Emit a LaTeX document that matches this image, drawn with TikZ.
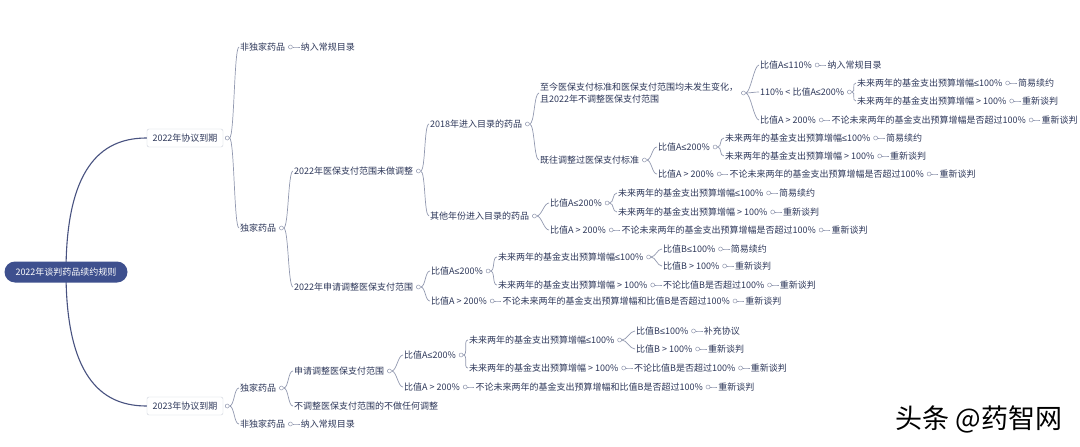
\documentclass[tikz,border=0pt]{standalone}
\usepackage{fontspec}
\setmainfont{Noto Sans CJK SC}
\newfontfamily\symfont{Liberation Sans}
\newcommand\lte{{\symfont ≤}}
\usetikzlibrary{positioning,backgrounds}
\definecolor{textcol}{RGB}{46,56,90}
\definecolor{linecol}{RGB}{146,153,176}
\definecolor{rootcol}{RGB}{62,80,142}
\definecolor{boxcol}{RGB}{205,210,220}
\definecolor{maincol}{RGB}{72,82,128}
\tikzset{
  txt/.style={inner sep=1pt, anchor=west, text=textcol, font=\fontsize{9}{12}\selectfont},
  rootbox/.style={fill=rootcol, text=white, rounded corners=10.5pt, minimum width=123pt,
    minimum height=21pt, inner sep=0pt, font=\fontsize{9}{11}\selectfont},
  datebox/.style={draw=boxcol, fill=white, rounded corners=2pt, minimum width=76pt,
    minimum height=18pt, inner sep=0pt, text=textcol, font=\fontsize{9}{11}\selectfont},
  knob/.style={circle, draw=linecol, fill=white, inner sep=0pt, minimum size=4pt, line width=0.5pt},
  conn/.style={draw=linecol, line width=0.7pt},
  mainline/.style={draw=maincol, line width=1.1pt}
}

\begin{document}
\begin{tikzpicture}[x=1pt,y=-1pt]
  \useasboundingbox (0,0) rectangle (1080,447);
  \node[rootbox] (r) at (66,272) {2022年谈判药品续约规则};
  \node[datebox] (a22) at (185,138) {2022年协议到期};
  \node[datebox] (a23) at (185,406) {2023年协议到期};

  \node[txt] (n1) at (239,47) {非独家药品};
  \node[txt] (n2) at (239,228) {独家药品};
  \node[txt] (n21) at (293,171) {2022年医保支付范围未做调整};
  \node[txt] (n22) at (293,287) {2022年申请调整医保支付范围};
  \node[txt] (n211) at (429,124) {2018年进入目录的药品};
  \node[txt] (n212) at (429,216) {其他年份进入目录的药品};
  \node[txt, align=left] (n2111) at (539,93) {至今医保支付标准和医保支付范围均未发生变化，\\且2022年不调整医保支付范围};
  \node[txt] (n2112) at (539,160) {既往调整过医保支付标准};
  \node[txt] (p1) at (759,65) {比值A\lte110\%};
  \node[txt] (p2) at (759,92) {110\% < 比值A\lte200\%};
  \node[txt] (p3) at (759,120) {比值A > 200\%};
  \node[txt] (p21) at (856,83) {未来两年的基金支出预算增幅\lte100\%};
  \node[txt] (p22) at (856,101) {未来两年的基金支出预算增幅 > 100\%};
  \node[txt] (q1) at (657,147) {比值A\lte200\%};
  \node[txt] (q2) at (657,174) {比值A > 200\%};
  \node[txt] (q11) at (724,138) {未来两年的基金支出预算增幅\lte100\%};
  \node[txt] (q12) at (724,156) {未来两年的基金支出预算增幅 > 100\%};
  \node[txt] (s1) at (549,203) {比值A\lte200\%};
  \node[txt] (s2) at (549,230) {比值A > 200\%};
  \node[txt] (s11) at (617,193) {未来两年的基金支出预算增幅\lte100\%};
  \node[txt] (s12) at (617,212) {未来两年的基金支出预算增幅 > 100\%};
  \node[txt] (t1) at (430,271) {比值A\lte200\%};
  \node[txt] (t2) at (430,301) {比值A > 200\%};
  \node[txt] (t11) at (497,257) {未来两年的基金支出预算增幅\lte100\%};
  \node[txt] (t12) at (497,285) {未来两年的基金支出预算增幅 > 100\%};
  \node[txt] (t111) at (662,249) {比值B\lte100\%};
  \node[txt] (t112) at (662,266) {比值B > 100\%};

  \node[txt] (u1) at (239,388) {独家药品};
  \node[txt] (u2) at (239,424) {非独家药品};
  \node[txt] (u11) at (293,371) {申请调整医保支付范围};
  \node[txt] (u12) at (293,406) {不调整医保支付范围的不做任何调整};
  \node[txt] (v1) at (403,355) {比值A\lte200\%};
  \node[txt] (v2) at (403,387) {比值A > 200\%};
  \node[txt] (v11) at (468,340) {未来两年的基金支出预算增幅\lte100\%};
  \node[txt] (v12) at (468,368) {未来两年的基金支出预算增幅 > 100\%};
  \node[txt] (v111) at (635,331) {比值B\lte100\%};
  \node[txt] (v112) at (635,349) {比值B > 100\%};

  \foreach \p in {a22,a23,n1,n2,n21,n22,n211,n212,n2111,n2112,p1,p2,p3,p21,p22,q1,q2,q11,q12,
    s1,s2,s11,s12,t1,t2,t11,t12,t111,t112,u1,u2,u11,v1,v2,v11,v12,v111,v112}
    \node[knob] (\p-k) at ([xshift=4pt]\p.east) {};

  \foreach \p/\t in {n1/纳入常规目录, p1/纳入常规目录, p21/简易续约, p22/重新谈判,
    p3/不论未来两年的基金支出预算增幅是否超过100\%, q11/简易续约, q12/重新谈判,
    q2/不论未来两年的基金支出预算增幅是否超过100\%, s11/简易续约, s12/重新谈判,
    s2/不论未来两年的基金支出预算增幅是否超过100\%, t111/简易续约, t112/重新谈判,
    t12/不论比值B是否超过100\%, t2/不论未来两年的基金支出预算增幅和比值B是否超过100\%,
    v111/补充协议, v112/重新谈判, v12/不论比值B是否超过100\%,
    v2/不论未来两年的基金支出预算增幅和比值B是否超过100\%, u2/纳入常规目录}
    \node[txt, right=7pt of \p-k] (\p-a) {\t};

  \foreach \p in {p3,q2,s2,t12,t2,v12,v2}
  {
    \node[knob] (\p-a-k) at ([xshift=4pt]\p-a.east) {};
    \node[txt, right=7pt of \p-a-k] (\p-b) {重新谈判};
  }

  \node[anchor=east, font=\fontsize{27}{29}\selectfont] (wm) at (1066,419) {头条 @药智网};

  \begin{scope}[on background layer]
    \fill[white] (0,0) rectangle (1080,447);
    \draw[mainline] (r.center) .. controls +(0,-112) and +(-40,0) .. (a22.west);
    \draw[mainline] (r.center) .. controls +(0,112) and +(-40,0) .. (a23.west);
    \foreach \p/\c in {a22/n1, a22/n2, n1/n1-a, n2/n21, n2/n22, n21/n211, n21/n212,
      n211/n2111, n211/n2112, n2111/p1, n2111/p2, n2111/p3, p1/p1-a, p2/p21, p2/p22,
      p21/p21-a, p22/p22-a, p3/p3-a, p3-a/p3-b, n2112/q1, n2112/q2, q1/q11, q1/q12,
      q11/q11-a, q12/q12-a, q2/q2-a, q2-a/q2-b, n212/s1, n212/s2, s1/s11, s1/s12,
      s11/s11-a, s12/s12-a, s2/s2-a, s2-a/s2-b, n22/t1, n22/t2, t1/t11, t1/t12,
      t11/t111, t11/t112, t111/t111-a, t112/t112-a, t12/t12-a, t12-a/t12-b, t2/t2-a,
      t2-a/t2-b, a23/u1, a23/u2, u1/u11, u1/u12, u11/v1, u11/v2, v1/v11, v1/v12,
      v11/v111, v11/v112, v111/v111-a, v112/v112-a, v12/v12-a, v12-a/v12-b,
      v2/v2-a, v2-a/v2-b, u2/u2-a}
      \draw[conn] (\p-k.east) .. controls +(5,0) and +(-5,0) .. (\c.west);
  \end{scope}
\end{tikzpicture}
\end{document}
